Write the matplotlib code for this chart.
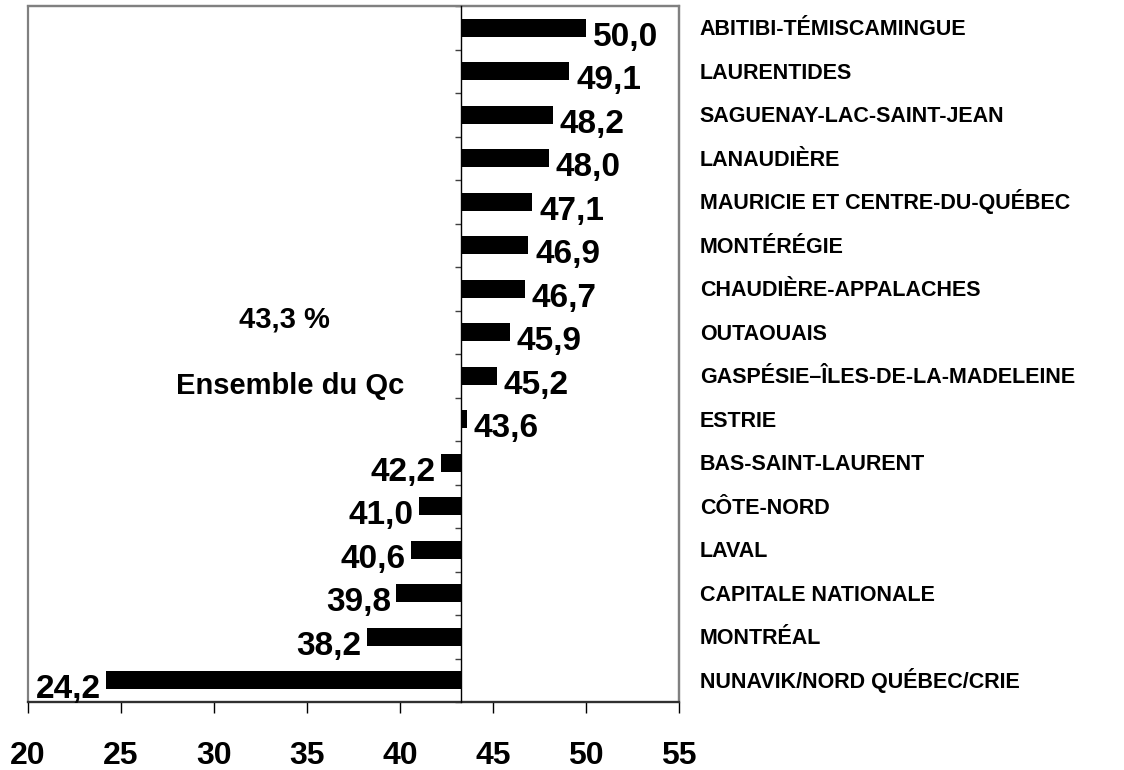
import matplotlib
matplotlib.use('Agg')
import matplotlib.pyplot as plt
from matplotlib.patches import Rectangle

plt.rcParams['font.family'] = ['Liberation Sans', 'DejaVu Sans']
plt.rcParams['font.weight'] = 'bold'

# regions, top to bottom
regions = ['ABITIBI-TÉMISCAMINGUE', 'LAURENTIDES', 'SAGUENAY-LAC-SAINT-JEAN',
           'LANAUDIÈRE', 'MAURICIE ET CENTRE-DU-QUÉBEC', 'MONTÉRÉGIE',
           'CHAUDIÈRE-APPALACHES', 'OUTAOUAIS', 'GASPÉSIE–ÎLES-DE-LA-MADELEINE',
           'ESTRIE', 'BAS-SAINT-LAURENT', 'CÔTE-NORD', 'LAVAL',
           'CAPITALE NATIONALE', 'MONTRÉAL', 'NUNAVIK/NORD QUÉBEC/CRIE']
values = [50.0, 49.1, 48.2, 48.0, 47.1, 46.9, 46.7, 45.9, 45.2,
          43.6, 42.2, 41.0, 40.6, 39.8, 38.2, 24.2]
quebec = 43.3
xticks = [20, 25, 30, 35, 40, 45, 50, 55]

fig = plt.figure(figsize=(11.24, 7.70), dpi=100)
ax = fig.add_axes([28/1124, 68/770, 651/1124, 696/770])

n = len(values)
ypos = [n - 1 - i for i in range(n)]
widths = [v - quebec for v in values]
ax.barh(ypos, widths, left=quebec, height=0.41, color='black', zorder=3)

ax.set_xlim(20, 55)
ax.set_ylim(-0.5, n - 0.5)

# value labels
for y, v in zip(ypos, values):
	txt = ('%.1f' % v).replace('.', ',')
	if v >= quebec:
		ax.annotate(txt, (v, y), xytext=(5, -13), textcoords='offset points',
		            ha='left', va='baseline', fontsize=24, fontweight='bold')
	else:
		ax.annotate(txt, (v, y), xytext=(-4, -13), textcoords='offset points',
		            ha='right', va='baseline', fontsize=24, fontweight='bold')
	# region name on the right
	ax.annotate(regions[n - 1 - y], (1, y), xycoords=('axes fraction', 'data'),
	            xytext=(15, -5.5), textcoords='offset points',
	            ha='left', va='baseline', fontsize=15.5, fontweight='bold',
	            annotation_clip=False)

# outer gray box
for s in ['top', 'right', 'bottom']:
	ax.spines[s].set_color('#808080')
	ax.spines[s].set_linewidth(1.6)
ax.spines['bottom'].set_color('#303030')
ax.add_patch(Rectangle((0, 0), 1, 1, transform=ax.transAxes, fill=False,
                       edgecolor='#808080', linewidth=1.6, zorder=1, clip_on=False))

# y axis sits on the Quebec average
ax.spines['left'].set_position(('data', quebec))
ax.spines['left'].set_color('black')
ax.spines['left'].set_linewidth(1.0)
ax.spines['left'].set_zorder(4)
ax.set_yticks([k + 0.5 for k in range(-1, n)])
ax.set_yticklabels([])
ax.tick_params(axis='y', direction='out', length=4.5, width=1, color='#404040')

ax.set_xticks(xticks)
ax.set_xticklabels([str(t) for t in xticks])
ax.tick_params(axis='x', direction='out', length=8, width=1, pad=20,
               labelsize=23, color='black')
for lab in ax.get_xticklabels():
	lab.set_fontweight('bold')

fig.text(284/1124, 1 - 319/770, '43,3 %', ha='center', va='center',
         fontsize=21, fontweight='bold')
fig.text(290/1124, 1 - 386/770, 'Ensemble du Qc', ha='center', va='center',
         fontsize=21, fontweight='bold')

fig.savefig('out.png', dpi=100)
